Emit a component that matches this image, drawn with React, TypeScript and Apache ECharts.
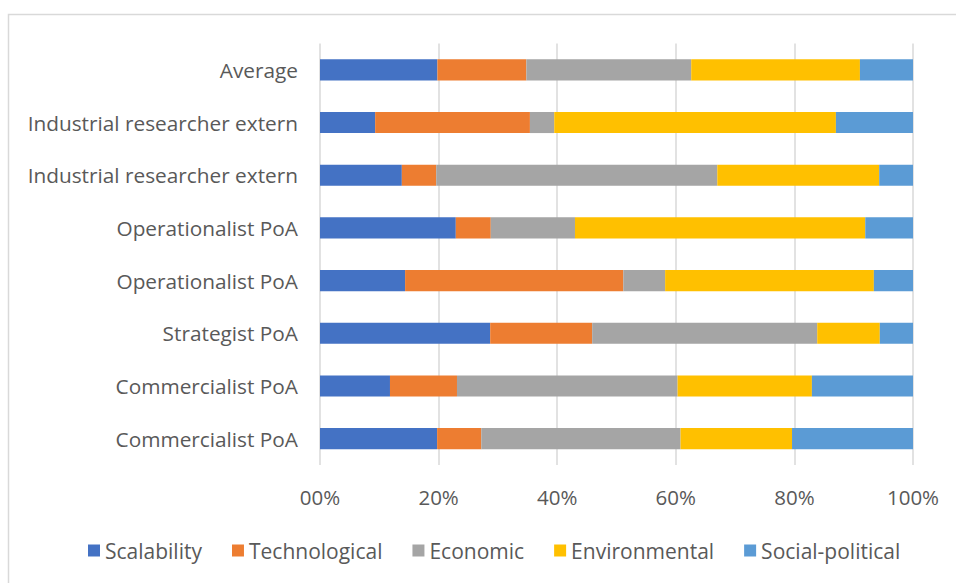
import React, { useEffect, useRef } from "react";
import * as echarts from "echarts";

const categories = [
  "Commercialist PoA",
  "Commercialist PoA",
  "Strategist PoA",
  "Operationalist PoA",
  "Operationalist PoA",
  "Industrial researcher extern",
  "Industrial researcher extern",
  "Average",
];

const seriesNames = ["Scalability", "Technological", "Economic", "Environmental", "Social-political"];

const scalability = [19.75, 11.8, 28.7, 14.35, 22.9, 13.8, 9.3, 19.8];
const technological = [7.45, 11.3, 17.2, 36.8, 5.9, 5.8, 26.1, 15.0];
const economic = [33.6, 37.2, 37.95, 7.05, 14.2, 47.4, 4.1, 27.8];
const environmental = [18.8, 22.65, 10.55, 35.2, 48.95, 27.3, 47.5, 28.45];
const socialPolitical = [20.4, 17.05, 5.6, 6.6, 8.05, 5.7, 13.0, 8.95];

const tickLabels = ["00%", "20%", "40%", "60%", "80%", "100%"];

const colors = ["#4472C4", "#ED7D31", "#A5A5A5", "#FFC000", "#5B9BD5"];

const FONT = "'Open Sans', 'Noto Sans', sans-serif";

export default function App() {
  const ref = useRef<HTMLDivElement>(null);
  useEffect(() => {
    if (!ref.current) return;
    const chart = echarts.init(ref.current, undefined, { renderer: "svg" });
    const values = [scalability, technological, economic, environmental, socialPolitical];
    chart.setOption({
      animation: false,
      color: colors,
      graphic: [
        {
          type: "polyline",
          shape: { points: [[8.5, 600], [8.5, 14.5], [960, 14.5]] },
          style: { stroke: "#d9d9d9", lineWidth: 1.5, fill: "none" },
          silent: true,
        },
      ],
      grid: { left: 320, right: 43, top: 43.5, bottom: 118, containLabel: false },
      legend: {
        left: 88,
        top: 540,
        padding: 0,
        itemWidth: 12,
        itemHeight: 12,
        itemGap: 30,
        icon: "rect",
        textStyle: { fontFamily: FONT, fontSize: 21, color: "#595959" },
        data: seriesNames,
      },
      xAxis: {
        type: "value",
        min: 0,
        max: 100,
        interval: 20,
        axisLine: { show: false },
        axisTick: { show: false },
        splitLine: { show: true, lineStyle: { color: "#d9d9d9", width: 1.5 } },
        axisLabel: {
          margin: 21,
          fontFamily: FONT,
          fontSize: 20.5,
          color: "#595959",
          formatter: (_v: number, i: number) => tickLabels[i],
        },
      },
      yAxis: {
        type: "category",
        data: categories,
        axisLine: { show: false },
        axisTick: { show: false },
        axisLabel: { margin: 22, fontFamily: FONT, fontSize: 20.8, color: "#595959" },
      },
      series: seriesNames.map((name, k) => ({
        name,
        type: "bar",
        stack: "total",
        barCategoryGap: "60%",
        data: values[k],
        itemStyle: { color: colors[k] },
      })),
    });
    return () => chart.dispose();
  }, []);
  return (
    <div
      ref={ref}
      style={{ position: "absolute", left: 0, top: 0, width: 956, height: 583, background: "#fff" }}
    />
  );
}
